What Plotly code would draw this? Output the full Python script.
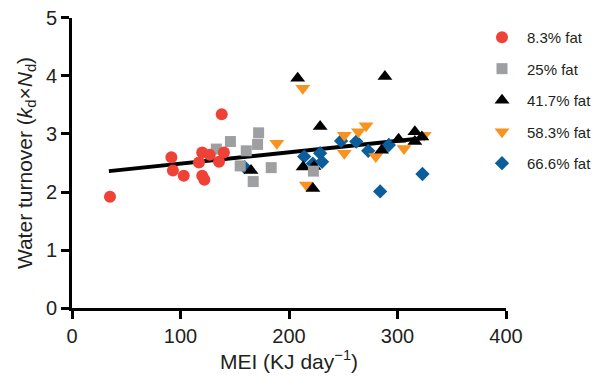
import plotly.graph_objects as go

# ---- data ----
fat83_x = [35, 91.6, 93, 103, 120, 117, 127, 120, 122, 135.5, 140, 138]
fat83_y = [1.92, 2.60, 2.37, 2.28, 2.68, 2.51, 2.64, 2.28, 2.21, 2.52, 2.68, 3.34]

fat25_x = [133, 146, 172, 171, 160.6, 155, 167, 183.6, 222.5]
fat25_y = [2.74, 2.87, 3.02, 2.82, 2.71, 2.45, 2.18, 2.42, 2.36]

fat417_x = [208, 228.7, 165, 213, 223, 222, 288.4, 285.4, 301, 316, 316, 322.5]
fat417_y = [3.96, 3.13, 2.37, 2.43, 2.44, 2.06, 3.99, 2.72, 2.91, 3.04, 2.87, 2.95]

fat583_x = [212.7, 188.8, 216, 251, 251, 264, 271, 280, 306, 324.6]
fat583_y = [3.79, 2.84, 2.12, 2.98, 2.67, 3.04, 3.14, 2.61, 2.75, 2.98]

fat666_x = [159, 214, 228.7, 230.5, 222, 248, 262, 273, 292, 284, 323]
fat666_y = [2.43, 2.61, 2.67, 2.52, 2.49, 2.88, 2.87, 2.71, 2.81, 2.01, 2.31]

fit_x = [34, 325]
fit_y = [2.36, 2.93]

x_ticks = [0, 100, 200, 300, 400]
y_ticks = [0, 1, 2, 3, 4, 5]

FONT = "Liberation Sans, Arial, Helvetica, sans-serif"
TXT = "#231f20"
PAD = "\u00a0"  # keeps the legend clip box from trimming the last glyph

fig = go.Figure()

fig.add_trace(go.Scatter(x=fit_x, y=fit_y, mode="lines",
                         line=dict(color="black", width=4),
                         showlegend=False, hoverinfo="skip"))

# drawn bottom-to-top; legendrank keeps the reference legend order
series = [
    ("66.6% fat", fat666_x, fat666_y, "diamond", "#0b5d9b", 11, 5),
    ("58.3% fat", fat583_x, fat583_y, "triangle-down", "#f7931e", 13, 4),
    ("41.7% fat", fat417_x, fat417_y, "triangle-up", "#000000", 13, 3),
    ("25% fat", fat25_x, fat25_y, "square", "#9d9fa1", 11, 2),
    ("8.3% fat", fat83_x, fat83_y, "circle", "#ef4136", 12, 1),
]
for name, xs, ys, sym, col, size, rank in series:
    fig.add_trace(go.Scatter(x=xs, y=ys, mode="markers", name=name + PAD,
                             legendgroup="g%d" % rank, legendrank=rank,
                             marker=dict(symbol=sym, color=col, size=size,
                                         line=dict(width=0))))

axis_common = dict(
    showline=True, linecolor="black", linewidth=3,
    ticks="outside", ticklen=8, tickwidth=3, tickcolor="black",
    showgrid=False, zeroline=False, automargin=False,
    ticklabeloverflow="allow",
    tickfont=dict(family=FONT, size=20, color=TXT),
)

# the page adds an 8px body margin, so the figure is sized to fit the window
fig.update_layout(
    width=592, height=371,
    margin=dict(l=64, r=93, t=0, b=71),
    paper_bgcolor="white", plot_bgcolor="white",
    font=dict(family=FONT, color=TXT),
    xaxis=dict(range=[0, 400], tickvals=x_ticks,
               title=dict(text="MEI (KJ day<sup>−1</sup>)", standoff=3,
                          font=dict(family=FONT, size=21, color=TXT)),
               **axis_common),
    yaxis=dict(range=[0, 5], tickvals=y_ticks, domain=[0, 0.9667],
               title=dict(text="Water turnover (<i>k</i><sub>d</sub>×<i>N</i><sub>d</sub>)",
                          standoff=8,
                          font=dict(family=FONT, size=21, color=TXT)),
               **axis_common),
    legend=dict(x=0.934, y=0.957, xanchor="left", yanchor="top",
                traceorder="grouped", tracegroupgap=9, itemwidth=40,
                font=dict(family=FONT, size=15, color=TXT),
                bgcolor="rgba(0,0,0,0)", borderwidth=0),
)

fig.write_html("out.html")
